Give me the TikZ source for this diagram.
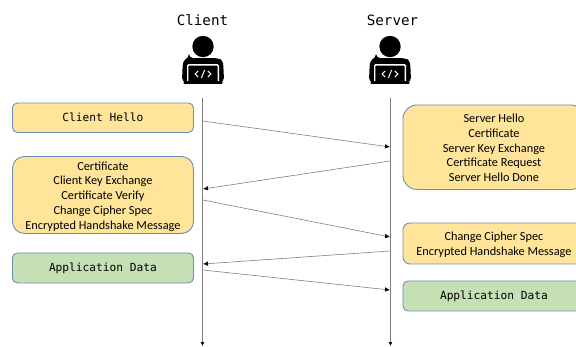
\documentclass[tikz,border=0pt]{standalone}
\usepackage{fontspec}
\setmainfont{Carlito}
\setmonofont{DejaVu Sans Mono}
\usetikzlibrary{arrows.meta}
\definecolor{fillY}{HTML}{FFE499}
\definecolor{fillG}{HTML}{C5E0B4}
\definecolor{edgeB}{HTML}{6F8DB8}
\definecolor{lineG}{HTML}{7F7F7F}
\newcommand\upfix{\rule{0pt}{11.5pt}}
\newcommand\upfixb{\rule{0pt}{10pt}}
\tikzset{
  x=1pt,y=-1pt,
  box/.style={draw=edgeB,line width=0.9pt,align=center,inner sep=0pt,anchor=north west,font=\fontsize{12.3pt}{14.7pt}\selectfont},
  ybox/.style={box,fill=fillY},
  gbox/.style={box,fill=fillG},
  mono/.style={font=\ttfamily\fontsize{11.2pt}{13pt}\selectfont},
  head/.style={font=\ttfamily\fontsize{14.2pt}{16pt}\selectfont,text=black},
  life/.style={draw=lineG,line width=0.8pt,-{Latex[length=4pt,width=4pt,black]}},
  msg/.style={draw=lineG,line width=0.6pt,-{Latex[length=5pt,width=4.5pt,black]}},
  pics/coder/.style={code={
    \fill[black] (0,-33) circle[radius=10.7];
    \fill[black,rounded corners=4pt] (-14,-21.5) -- (14,-21.5) .. controls (18,-20) and (20,-17) .. (20.5,-12) -- (21,2.5) -- (-21,2.5) -- (-20.5,-12) .. controls (-20,-17) and (-18,-20) .. (-14,-21.5) -- cycle;
    \fill[white,rounded corners=1.5pt] (-16,-15.5) rectangle (16,3);
    \fill[black,rounded corners=1pt] (-14.6,-14) rectangle (14.6,3);
    \fill[black,rounded corners=0.8pt] (-19.5,1.6) rectangle (19.5,4.4);
    \draw[white,line width=1pt] (-4.8,-8.5) -- (-8,-5.5) -- (-4.8,-2.5) (4.8,-8.5) -- (8,-5.5) -- (4.8,-2.5) (1.6,-9.5) -- (-1.6,-1.5);
  }},
}
\begin{document}
\begin{tikzpicture}
\useasboundingbox (0,0) rectangle (576,346);
\begin{scope}
\clip (0,0) rectangle (576,346);

\node[head] (clientT) at (202.5,20.5) {Client};
\node[head] (serverT) at (392.5,20.5) {Server};
\pic at (203,79.5) {coder};
\pic at (390,79.5) {coder};

\coordinate (cTop) at (202.5,98);
\coordinate (cEnd) at (202.5,346);
\coordinate (sTop) at (390.5,98);
\coordinate (sEnd) at (390.5,346);
\draw[life] (cTop) -- (cEnd);
\draw[life] (sTop) -- (sEnd);

\node[ybox,mono,rounded corners=5pt,minimum width=181pt,minimum height=29.5pt] (ch) at (12,102.5) {Client Hello};
\node[ybox,rounded corners=12pt,minimum width=181pt,minimum height=77pt] (cc) at (12,156) {\upfix Certificate\\Client Key Exchange\\Certificate Verify\\Change Cipher Spec\\Encrypted Handshake Message};
\node[gbox,mono,rounded corners=5pt,minimum width=181pt,minimum height=30pt] (cd) at (12,252.5) {Application Data};

\node[ybox,rounded corners=14pt,minimum width=182pt,minimum height=84.5pt] (sh) at (402.5,104.5) {\upfixb Server Hello\\Certificate\\Server Key Exchange\\Certificate Request\\Server Hello Done};
\node[ybox,rounded corners=7pt,minimum width=182pt,minimum height=41pt] (sc) at (402.5,222.5) {\upfix Change Cipher Spec\\Encrypted Handshake Message};
\node[gbox,mono,rounded corners=5pt,minimum width=182pt,minimum height=30pt] (sd) at (402.5,280.5) {Application Data};

\coordinate (m1a) at (203,121);
\coordinate (m1b) at (390,147);
\coordinate (m2a) at (390,161);
\coordinate (m2b) at (203,189);
\coordinate (m3a) at (203,200);
\coordinate (m3b) at (390,237);
\coordinate (m4a) at (390,251);
\coordinate (m4b) at (203,264);
\coordinate (m5a) at (203,270);
\coordinate (m5b) at (390,290);
\draw[msg] (m1a) -- (m1b);
\draw[msg] (m2a) -- (m2b);
\draw[msg] (m3a) -- (m3b);
\draw[msg] (m4a) -- (m4b);
\draw[msg] (m5a) -- (m5b);
\end{scope}
\end{tikzpicture}
\end{document}
